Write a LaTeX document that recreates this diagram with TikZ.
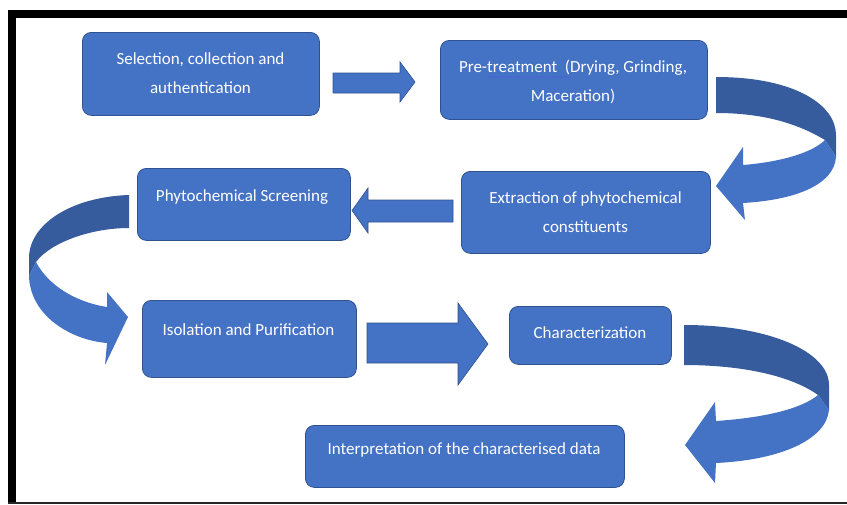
\documentclass[tikz,border=0pt]{standalone}
\usepackage{fontspec}
\setmainfont{Carlito}
\usetikzlibrary{decorations.pathmorphing}
\definecolor{boxblue}{HTML}{4472C4}
\definecolor{boxline}{HTML}{2F528F}
\definecolor{backblue}{HTML}{365C9D}
\definecolor{squiggle}{HTML}{4A63D6}
\begin{document}
\begin{tikzpicture}[x=1pt,y=-1pt,
  box/.style={draw=boxline, line width=0.8pt, fill=boxblue, rounded corners=9pt, anchor=north west, inner sep=0pt},
  lbl/.style={text=white, font=\fontsize{17}{29}\selectfont, align=center, inner sep=0pt},
  blk/.style={fill=boxblue, draw=boxline, line width=0.6pt},
  frontpart/.style={fill=boxblue},
  backpart/.style={fill=backblue}]
\useasboundingbox (0,0) rectangle (847,504);
% frame
\fill[black] (8,10) rectangle (847,18);
\fill[black] (8,10) rectangle (16,504);
\fill[black!85] (8,502) rectangle (847,504);
% boxes
\node[box, minimum width=237pt, minimum height=83pt] (b1) at (82,32) {};
\node[box, minimum width=267pt, minimum height=79pt] (b2) at (440,40) {};
\node[box, minimum width=249pt, minimum height=82pt] (b3) at (461,171) {};
\node[box, minimum width=213pt, minimum height=72pt] (b4) at (137,168) {};
\node[box, minimum width=214pt, minimum height=77pt] (b5) at (142,300) {};
\node[box, minimum width=162pt, minimum height=58pt] (b6) at (509,306) {};
\node[box, minimum width=319pt, minimum height=62pt] (b7) at (305,425) {};
% labels
\node[lbl] (t1) at (200.5,73.5) {Selection, collection and\\authentication};
\node[lbl] (t2) at (573,82) {Pre-treatment\ \ (Drying, Grinding,\\Maceration)};
\node[lbl] (t3) at (585.5,212) {Extraction of phytochemical\\constituents};
\node[lbl] (t4) at (242,197) {Phytochemical Screening};
\node[lbl] (t5) at (248.5,330) {Isolation and Purification};
\node[lbl] (t6) at (590,333) {Characterization};
\node[lbl] (t7) at (464,450) {Interpretation of the characterised data};
% spell-check squiggle
\draw[squiggle, line width=0.5pt, decorate, decoration={snake, amplitude=0.7pt, segment length=3pt}] (488,77) -- (570,77);
% straight block arrows
\coordinate (a1s) at (333,83);
\filldraw[blk] (333,73) -- (400,73) -- (400,62) -- (415,82) -- (400,102) -- (400,93) -- (333,93) -- cycle;
\filldraw[blk] (453,200) -- (368,200) -- (368,188) -- (352,210.5) -- (368,233) -- (368,222) -- (453,222) -- cycle;
\filldraw[blk] (367,323) -- (458,323) -- (458,303) -- (488,344) -- (458,385) -- (458,363) -- (367,363) -- cycle;
% curved arrow 1 (right side, top)
\fill[backpart] (716,77) .. controls (795,77) and (836,105) .. (836,135) -- (836,157) -- (825,140) .. controls (795,122) and (760,113) .. (716,113) -- cycle;
\fill[frontpart] (825,140) -- (836,157) .. controls (834,185) and (795,200) .. (743,203) -- (745,220) -- (716,186) -- (743,147) -- (743,165) .. controls (780,162) and (812,153) .. (825,140) -- cycle;
% curved arrow 2 (left side)
\fill[backpart] (129,195) .. controls (70,197) and (29,225) .. (29,258) -- (29,276) -- (36,262) .. controls (50,243) and (90,228) .. (129,228) -- cycle;
\fill[frontpart] (36,262) -- (29,276) .. controls (30,315) and (70,340) .. (107,343) -- (105,365) -- (128,317) -- (107,292) -- (107,307) .. controls (75,302) and (48,285) .. (36,262) -- cycle;
% curved arrow 3 (right side, bottom)
\fill[backpart] (684,325) .. controls (770,325) and (829,352) .. (829,385) -- (829,410) -- (818,395) .. controls (790,375) and (740,365) .. (684,365) -- cycle;
\fill[frontpart] (818,395) -- (829,410) .. controls (826,440) and (780,460) .. (716,463) -- (715,483) -- (685,445) -- (715,402) -- (716,421) .. controls (760,418) and (800,410) .. (818,395) -- cycle;
\end{tikzpicture}
\end{document}
